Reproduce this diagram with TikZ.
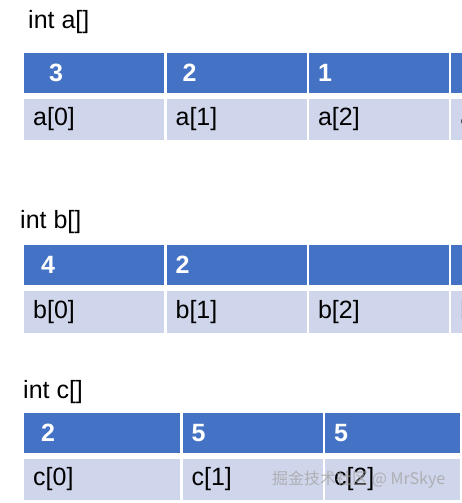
\documentclass[tikz,border=0pt]{standalone}
\usepackage{fontspec}
\setmainfont{Liberation Sans}
\newfontfamily\cjk{Noto Sans CJK SC}
\usepackage{tikz}
\usetikzlibrary{positioning}
\definecolor{headblue}{RGB}{68,114,196}
\definecolor{rowgrey}{RGB}{207,213,234}
\tikzstyle{headcell} = [rectangle, minimum height=40pt, fill=headblue, text=white, font=\fontsize{25}{28}\selectfont\bfseries, inner xsep=9pt, inner ysep=0pt, align=left, text width=122pt]
\tikzstyle{idxcell} = [rectangle, minimum height=41pt, fill=rowgrey, text=black, font=\fontsize{25}{28}\selectfont, inner xsep=9pt, inner ysep=0pt, align=left, text width=122pt]
\tikzstyle{title} = [anchor=west, inner sep=0pt, font=\fontsize{25}{28}\selectfont]
\tikzstyle{watermark} = [anchor=west, inner sep=0pt, text=black!35, text opacity=0.8, font=\cjk\fontsize{16}{18}\selectfont]

\begin{document}
\begin{tikzpicture}[x=1pt, y=-1pt]
\clip (0,0) rectangle (462,503);
\useasboundingbox (0,0) rectangle (462,503);
\node (ta) [title] at (28,22) {int a[]};
\node (a0) [headcell, anchor=north west] at (24,53) {\hspace{16pt}3};
\node (a1) [headcell, right=2pt of a0] {\hspace{7pt}2};
\node (a2) [headcell, right=2pt of a1] {1};
\node (a3) [headcell, right=2pt of a2] {};
\node (ia0) [idxcell, below=5pt of a0] {a[0]};
\node (ia1) [idxcell, below=5pt of a1] {a[1]};
\node (ia2) [idxcell, below=5pt of a2] {a[2]};
\node (ia3) [idxcell, below=5pt of a3] {a[3]};
%
\node (tb) [title] at (20,222) {int b[]};
\node (b0) [headcell, anchor=north west] at (24,245) {\hspace{8pt}4};
\node (b1) [headcell, right=2pt of b0] {2};
\node (b2) [headcell, right=2pt of b1] {};
\node (b3) [headcell, right=2pt of b2] {};
\node (ib0) [idxcell, below=5pt of b0, minimum height=42pt] {b[0]};
\node (ib1) [idxcell, below=5pt of b1, minimum height=42pt] {b[1]};
\node (ib2) [idxcell, below=5pt of b2, minimum height=42pt] {b[2]};
\node (ib3) [idxcell, below=5pt of b3, minimum height=42pt] {b[3]};
%
\node (tc) [title] at (23,392) {int c[]};
\node (c0) [headcell, anchor=north west, text width=138pt] at (24,413) {\hspace{8pt}2};
\node (c1) [headcell, right=2pt of c0] {5};
\node (c2) [headcell, right=2pt of c1, text width=117pt] {5};
\node (c3) [headcell, right=2pt of c2] {};
\node (ic0) [idxcell, below=5pt of c0, text width=138pt] {c[0]};
\node (ic1) [idxcell, below=5pt of c1] {c[1]};
\node (ic2) [idxcell, below=5pt of c2, text width=117pt] {c[2]};
\node (ic3) [idxcell, below=5pt of c3] {};
%\node watermark
\node (wm) [watermark] at (272,480) {掘金技术社区 @ MrSkye};
\end{tikzpicture}
\end{document}
